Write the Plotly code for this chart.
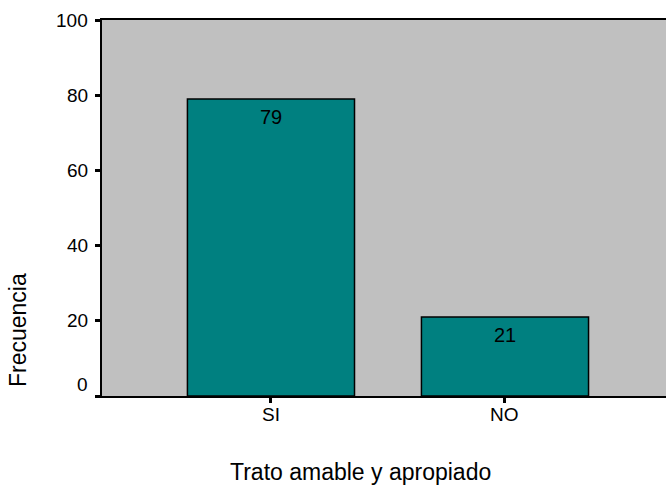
import plotly.graph_objects as go

# Survey results: friendly and appropriate treatment
categories = ["SI", "NO"]
frequencies = [79, 21]
y_ticks = [0, 20, 40, 60, 80, 100]

BAR_COLOR = "#008080"
PLOT_BG = "#C0C0C0"
FONT = "Arial, Liberation Sans, sans-serif"

fig = go.Figure()
fig.add_trace(go.Bar(
    x=categories,
    y=frequencies,
    width=0.714,
    marker=dict(color=BAR_COLOR, line=dict(color="black", width=1.5)),
    hoverinfo="skip",
))

# value labels inside the top of each bar, category labels below the axis
for cat, val in zip(categories, frequencies):
    fig.add_annotation(
        x=cat, y=val, xref="x", yref="y",
        text=str(val), showarrow=False,
        yshift=-18, yanchor="middle",
        font=dict(family=FONT, size=20, color="black"),
    )
    fig.add_annotation(
        x=cat, y=0, xref="x", yref="paper",
        text=cat, showarrow=False,
        yshift=-18, yanchor="middle",
        font=dict(family=FONT, size=19, color="black"),
    )

# y tick labels (the zero label is lifted off the axis corner)
for t in y_ticks:
    fig.add_annotation(
        x=0, y=t, xref="paper", yref="y",
        text=str(t), showarrow=False,
        xanchor="right", yanchor="middle",
        xshift=-12, yshift=12 if t == 0 else 0,
        font=dict(family=FONT, size=19, color="black"),
    )

fig.add_annotation(
    x=0, y=0.1755, xref="paper", yref="paper",
    text="Frecuencia", showarrow=False, textangle=-90,
    xshift=-84, xanchor="center", yanchor="middle",
    font=dict(family=FONT, size=23, color="black"),
)
fig.add_annotation(
    x=(360 - 102) / 564, y=-0.202, xref="paper", yref="paper",
    text="Trato amable y apropiado", showarrow=False,
    xanchor="center", yanchor="middle",
    font=dict(family=FONT, size=23, color="black"),
)

fig.update_layout(
    width=666, height=486,
    margin=dict(l=102, r=0, t=20, b=90),
    paper_bgcolor="white",
    plot_bgcolor=PLOT_BG,
    showlegend=False,
    xaxis=dict(
        range=[-0.722, 1.688],
        showgrid=False, zeroline=False, showticklabels=False,
        showline=True, linecolor="black", linewidth=2, mirror=True,
        ticks="outside", ticklen=5, tickwidth=3, tickcolor="black",
    ),
    yaxis=dict(
        range=[0, 100],
        tickvals=y_ticks, showticklabels=False,
        showgrid=False, zeroline=False,
        showline=True, linecolor="black", linewidth=2,
        ticks="outside", ticklen=5, tickwidth=3, tickcolor="black",
    ),
)

fig.write_html("out.html")
